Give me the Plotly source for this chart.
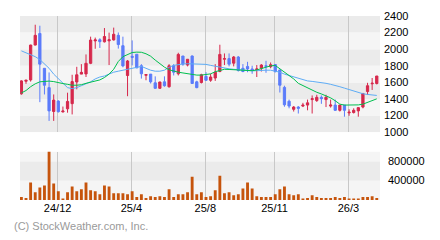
import plotly.graph_objects as go

# weekly candles, index 0..77
opens  = [1463,1614,1630,2050,2190,1770,1537,1250,1375,1245,1282,1344,1605,1700,1702,1830,2100,2114,2089,2101,
          2112,2167,2042,1683,1914,1939,1801,1686,1700,1595,1529,1607,1548,1801,1704,1918,1809,1918,1607,1599,
          1673,1626,1653,1731,1880,1887,1832,1906,1770,1793,1762,1755,1770,1801,1789,1815,1750,1540,1373,1276,
          1303,1315,1327,1393,1381,1420,1393,1315,1327,1264,1327,1233,1237,1257,1303,1490,1583,1587]
highs  = [1626,1630,2054,2295,2283,1770,1720,1455,1385,1309,1476,1692,1788,1820,1937,2151,2140,2132,2255,2200,
          2260,2202,2151,1870,2106,1939,1820,1700,1700,1673,1607,1673,1820,1820,1957,1918,1879,1925,1620,1704,
          1723,1704,1820,2054,1949,1949,1918,1918,1820,1848,1801,1809,1820,1860,1840,1820,1750,1560,1393,1315,
          1315,1354,1393,1443,1451,1443,1451,1393,1393,1327,1327,1276,1288,1303,1471,1595,1653,1677]
lows   = [1451,1583,1610,2046,1362,1455,1136,1136,1237,1237,1235,1214,1517,1700,1665,1820,2005,2015,2081,1809,
          2104,2007,1782,1434,1805,1770,1646,1626,1587,1521,1521,1548,1537,1684,1684,1801,1793,1587,1530,1587,
          1618,1607,1618,1723,1809,1793,1793,1731,1723,1723,1704,1665,1731,1716,1770,1720,1478,1307,1288,1249,
          1225,1303,1264,1225,1365,1342,1303,1296,1257,1249,1187,1198,1225,1187,1288,1451,1509,1575]
closes = [1618,1626,2050,2167,1820,1566,1257,1387,1247,1255,1371,1610,1692,1721,1830,2110,2112,2091,2153,2114,
          2180,2056,1799,1858,1902,1776,1704,1694,1607,1529,1605,1560,1801,1723,1937,1820,1879,1587,1537,1692,
          1626,1665,1723,1937,1886,1820,1906,1743,1731,1762,1743,1762,1809,1793,1813,1730,1566,1330,1315,1303,
          1288,1326,1354,1404,1420,1404,1420,1327,1264,1327,1264,1241,1264,1296,1467,1560,1590,1677]
ma_long = [1980,1957,1933,1910,1875,1828,1770,1700,1642,1583,1537,1525,1537,1560,1583,1607,1642,1665,1677,1700,
           1723,1735,1747,1758,1770,1782,1793,1770,1747,1735,1735,1747,1782,1805,1817,1822,1825,1825,1825,1825,
           1817,1805,1793,1782,1770,1764,1758,1752,1747,1739,1739,1741,1747,1747,1747,1739,1723,1700,1682,1665,
           1648,1630,1618,1612,1607,1601,1589,1577,1566,1548,1531,1513,1496,1478,1463,1455,1449,1443]
ma_short = [1473,1502,1548,1583,1607,1615,1616,1610,1595,1586,1577,1566,1566,1572,1589,1601,1610,1630,1659,1700,
            1758,1852,1910,1939,1960,1965,1963,1945,1916,1869,1822,1784,1752,1735,1723,1714,1703,1694,1688,1688,
            1692,1703,1729,1748,1758,1756,1752,1747,1741,1737,1741,1750,1767,1784,1799,1805,1764,1729,1682,1642,
            1589,1560,1531,1508,1481,1461,1441,1414,1379,1338,1327,1327,1327,1329,1338,1362,1379,1402]
volumes = [60000,40000,360000,160000,260000,300000,1000000,340000,180000,20000,160000,280000,180000,220000,
           360000,200000,180000,120000,300000,280000,140000,140000,140000,120000,180000,60000,
           120000,40000,80000,60000,80000,60000,220000,60000,120000,120000,160000,480000,120000,160000,
           60000,80000,200000,500000,140000,160000,100000,120000,240000,360000,240000,80000,
           60000,60000,60000,120000,220000,280000,120000,100000,120000,20000,40000,100000,60000,40000,
           40000,40000,60000,40000,60000,20000,20000,20000,60000,60000,80000,40000]
weeks = list(range(len(opens)))

tick_weeks = [8, 24, 40, 55, 71]
tick_labels = ["24/12", "25/4", "25/8", "25/11", "26/3"]
price_ticks = [1000, 1200, 1400, 1600, 1800, 2000, 2200, 2400]
vol_ticks = [400000, 800000]
vol_max = 1000000

UP = "#d6284c"
DOWN = "#5c7cfa"
DARK = "#ebebeb"
LIGHT = "#f5f5f5"
FONT = "Liberation Sans, Arial, sans-serif"

fig = go.Figure()
fig.add_trace(go.Candlestick(
    x=weeks, open=opens, high=highs, low=lows, close=closes,
    increasing=dict(line=dict(color=UP, width=1), fillcolor=UP),
    decreasing=dict(line=dict(color=DOWN, width=1), fillcolor=DOWN),
    whiskerwidth=0, xaxis="x", yaxis="y", showlegend=False, hoverinfo="skip"))
fig.add_trace(go.Scatter(x=weeks, y=ma_long, mode="lines",
                         line=dict(color="#5eacf5", width=1), xaxis="x", yaxis="y", showlegend=False))
fig.add_trace(go.Scatter(x=weeks, y=ma_short, mode="lines",
                         line=dict(color="#00bf4f", width=1), xaxis="x", yaxis="y", showlegend=False))
fig.add_trace(go.Bar(x=weeks, y=volumes, marker=dict(color="#c6540c", line=dict(width=0)),
                     width=0.62, xaxis="x2", yaxis="y2", showlegend=False))

shapes = []
for k in range(len(price_ticks) - 1):
    lo, hi = price_ticks[k], price_ticks[k + 1]
    col = DARK if (len(price_ticks) - 2 - k) % 2 == 0 else LIGHT
    shapes.append(dict(type="rect", xref="x domain", yref="y", x0=0, x1=1, y0=lo, y1=hi,
                       fillcolor=col, line=dict(width=0), layer="below"))
vbounds = [0] + vol_ticks + [vol_max]
for k in range(len(vbounds) - 1):
    col = LIGHT if k % 2 == 0 else DARK
    shapes.append(dict(type="rect", xref="x2 domain", yref="y2", x0=0, x1=1, y0=vbounds[k], y1=vbounds[k + 1],
                       fillcolor=col, line=dict(width=0), layer="below"))

xr = [-0.3, len(weeks) - 0.3]
tickpos = [w - 0.15 for w in tick_weeks]
fig.update_layout(
    width=440, height=240,
    margin=dict(l=20, r=60, t=10, b=40),
    paper_bgcolor="white", plot_bgcolor="white",
    font=dict(family=FONT, size=11, color="black"),
    shapes=shapes,
    xaxis=dict(domain=[0, 1], range=xr, anchor="y", tickvals=tickpos, showticklabels=False,
               showgrid=True, gridcolor="#c8c8c8", gridwidth=1, zeroline=False,
               rangeslider=dict(visible=False), showline=False, ticks=""),
    xaxis2=dict(domain=[0, 1], range=xr, anchor="y2", tickvals=tickpos, ticktext=tick_labels,
                showgrid=True, gridcolor="#c8c8c8", gridwidth=1, zeroline=False, ticks="",
                ticklabelstandoff=0, tickfont=dict(size=11, color="black")),
    yaxis=dict(domain=[1 - 120 / 190, 1], range=[price_ticks[0], price_ticks[-1]], side="right",
               tickvals=price_ticks, showgrid=False, zeroline=False, ticks="",
               ticklabelstandoff=3, anchor="x"),
    yaxis2=dict(domain=[0, 50 / 190], range=[0, vol_max], side="right", tickvals=vol_ticks,
                tickformat="d", showgrid=False, zeroline=False, ticks="", ticklabelstandoff=7,
                anchor="x2"),
    bargap=0.3, boxgap=0.3,
    annotations=[dict(text="(C) StockWeather.com, Inc.", xref="paper", yref="paper",
                      x=-8 / 360, y=-27 / 190, xanchor="left", yanchor="middle", showarrow=False,
                      font=dict(family=FONT, size=11, color="#9a9a9a"))],
)
fig.write_html("out.html")
